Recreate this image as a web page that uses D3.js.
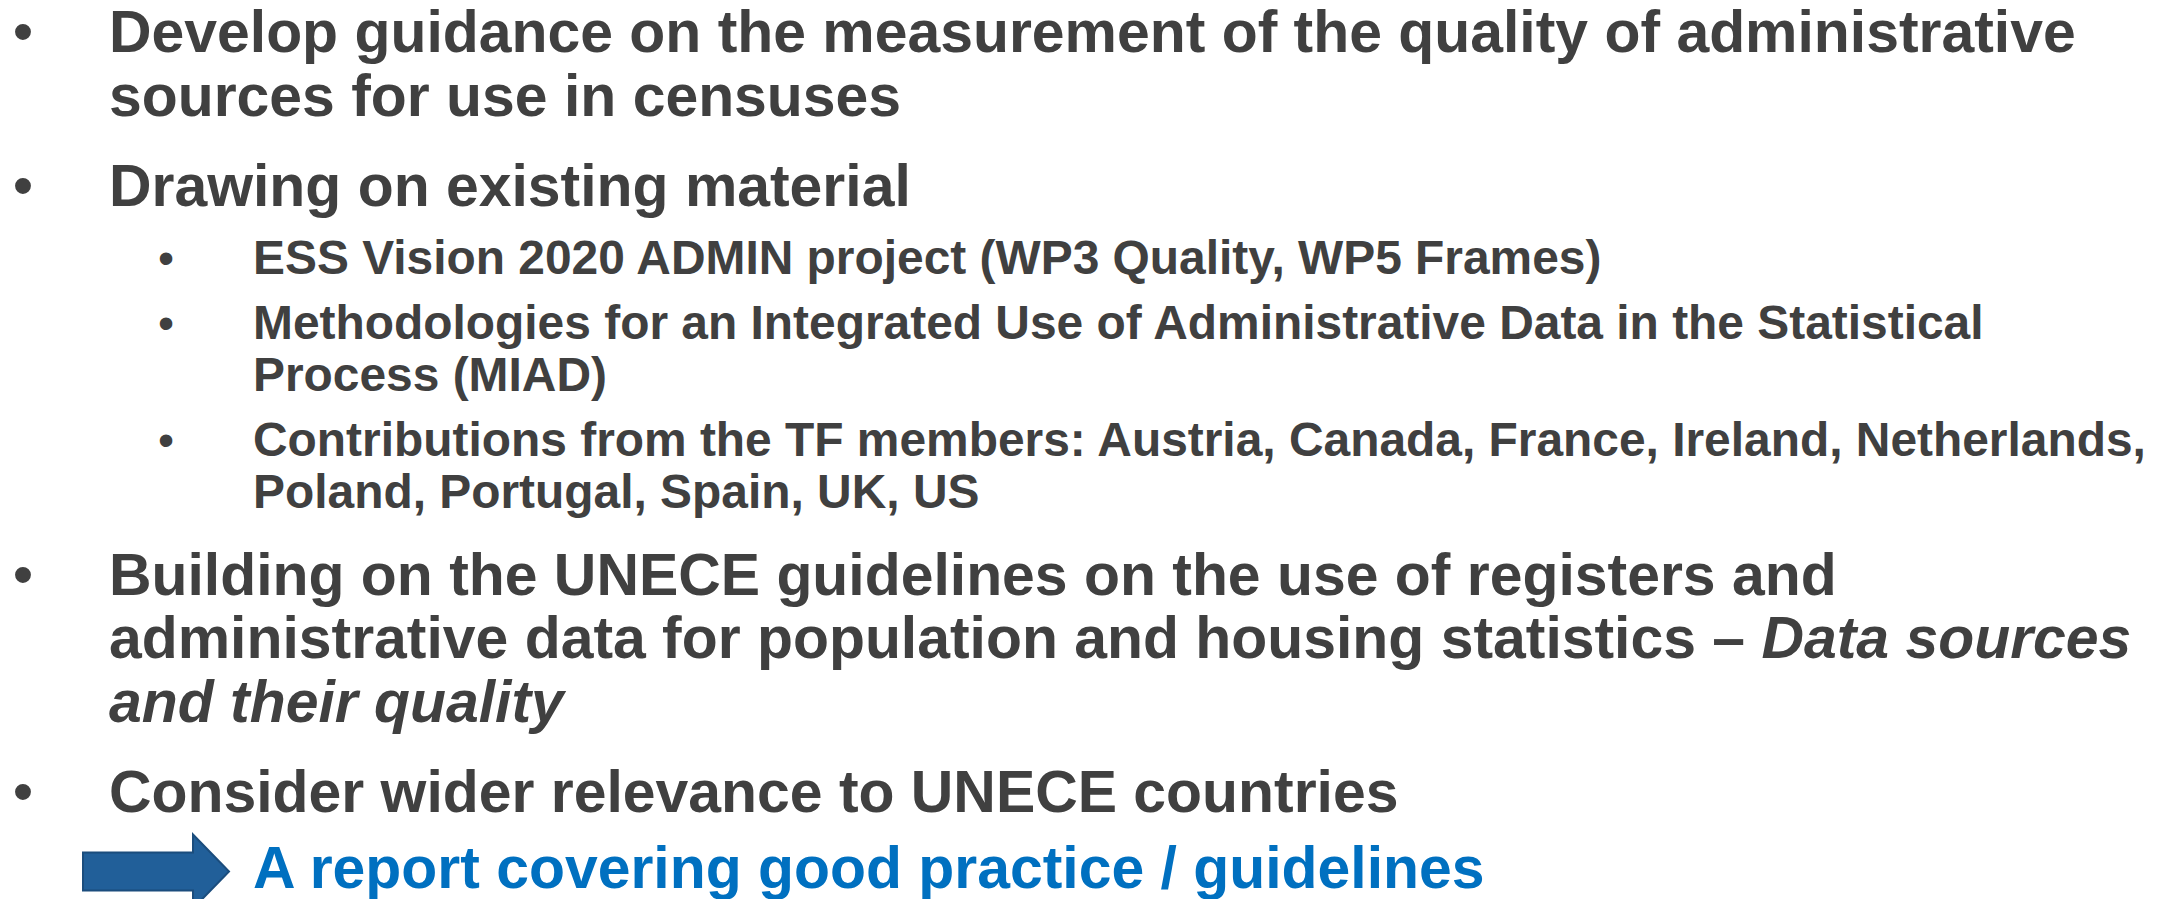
<!DOCTYPE html>
<html>
<head>
<meta charset="utf-8">
<script src="https://cdn.jsdelivr.net/npm/d3@7"></script>
<style>
  html, body { margin: 0; padding: 0; background: #ffffff; overflow: hidden; }
  svg { display: block; }
</style>
</head>
<body>
<svg id="slide"></svg>
<script>
// ---- content (text of the slide) ----
// italic segments are marked with *...*
const level1Items = [
  ["Develop guidance on the measurement of the quality of administrative",
   "sources for use in censuses"],
  ["Drawing on existing material"],
  ["Building on the UNECE guidelines on the use of registers and",
   "administrative data for population and housing statistics \u2013 *Data sources*",
   "*and their quality*"],
  ["Consider wider relevance to UNECE countries"]
];
const level2Items = [
  ["ESS Vision 2020 ADMIN project (WP3 Quality, WP5 Frames)"],
  ["Methodologies for an Integrated Use of Administrative Data in the Statistical",
   "Process (MIAD)"],
  ["Contributions from the TF members: Austria, Canada, France, Ireland, Netherlands,",
   "Poland, Portugal, Spain, UK, US"]
];
// order of the outline: [level, index]
const outline = [[1,0],[1,1],[2,0],[2,1],[2,2],[1,2],[1,3]];
const conclusion = "A report covering good practice / guidelines";

// ---- style / layout ----
const W = 2164, H = 899;
const textColor = "#404040";
const accent = "#0070C0";
const arrowFill = "#215F99";
const arrowStroke = "#1B4D7D";
const font = "'Liberation Sans', Arial, Helvetica, sans-serif";

const style = {
  1: { size: 58.9, lead: 63.5, bulletX: 23, textX: 109, bulletSize: 58.5 },
  2: { size: 47.9, lead: 51.5, bulletX: 166, textX: 253, bulletSize: 46 }
};
// space (baseline to baseline) when moving between paragraphs
function gapBetween(prev, next) {
  if (prev === 1 && next === 1) return 90;
  if (prev === 1 && next === 2) return 68;
  if (prev === 2 && next === 2) return 65.5;
  if (prev === 2 && next === 1) return 87;
  return 76;
}

const svg = d3.select("#slide").attr("width", W).attr("height", H)
  .attr("viewBox", `0 0 ${W} ${H}`);

svg.append("rect").attr("width", W).attr("height", H).attr("fill", "#ffffff");

// build line records
let y = 52, prevLevel = null;
const lines = [];
outline.forEach(([lvl, idx]) => {
  const item = lvl === 1 ? level1Items[idx] : level2Items[idx];
  if (prevLevel !== null) y += gapBetween(prevLevel, lvl);
  item.forEach((t, i) => {
    if (i > 0) y += style[lvl].lead;
    lines.push({ level: lvl, text: t, y: y, first: i === 0 });
  });
  prevLevel = lvl;
});
const conclusionY = y + gapBetween(1, 0);

function parseSegments(t) {
  const parts = t.split("*");
  return parts.map((p, i) => ({ text: p, italic: i % 2 === 1 })).filter(d => d.text.length);
}

const g = svg.append("g").attr("font-family", font).attr("font-weight", "bold");

// bullets
g.selectAll("text.bullet").data(lines.filter(d => d.first)).join("text")
  .attr("class", "bullet")
  .attr("x", d => style[d.level].bulletX)
  .attr("y", d => d.y)
  .attr("text-anchor", "middle")
  .attr("font-size", d => style[d.level].bulletSize)
  .attr("font-weight", "normal")
  .attr("fill", textColor)
  .text("\u2022");

// text lines
const tl = g.selectAll("text.line").data(lines).join("text")
  .attr("class", "line")
  .attr("x", d => style[d.level].textX)
  .attr("y", d => d.y)
  .attr("font-size", d => style[d.level].size)
  .attr("fill", textColor)
  .attr("xml:space", "preserve")
  .style("white-space", "pre");
tl.selectAll("tspan").data(d => parseSegments(d.text)).join("tspan")
  .attr("font-style", s => s.italic ? "italic" : "normal")
  .text(s => s.text);

// conclusion arrow + text
const arrowCy = conclusionY - 16;
const ax0 = 83, ax1 = 229, headX = 193, shaftH = 19, headH = 37;
const arrowPts = [
  [ax0, arrowCy - shaftH], [headX, arrowCy - shaftH], [headX, arrowCy - headH],
  [ax1, arrowCy], [headX, arrowCy + headH], [headX, arrowCy + shaftH], [ax0, arrowCy + shaftH]
];
svg.append("path")
  .attr("d", d3.line()(arrowPts) + "Z")
  .attr("fill", arrowFill)
  .attr("stroke", arrowStroke)
  .attr("stroke-width", 2);

g.append("text")
  .attr("x", 253)
  .attr("y", conclusionY)
  .attr("font-size", 58.9)
  .attr("fill", accent)
  .text(conclusion);
</script>
</body>
</html>
